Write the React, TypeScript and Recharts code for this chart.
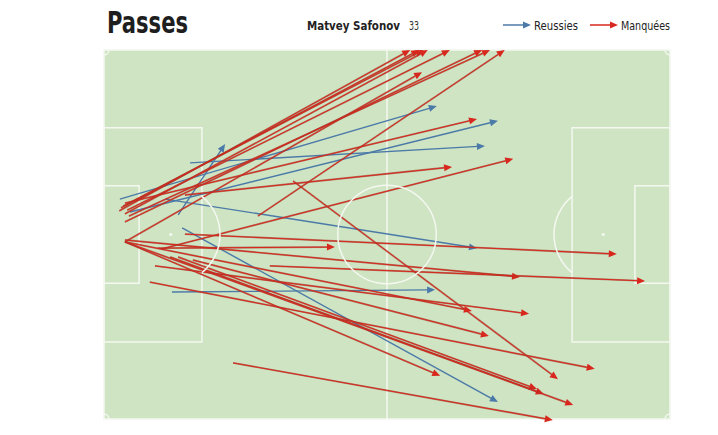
import React from "react";
import {
  ComposedChart,
  XAxis,
  YAxis,
  ReferenceArea,
  ReferenceLine,
  ReferenceDot,
  Legend,
} from "recharts";

// pitch coordinates 0-100 (Opta style), y measured from the top touchline
type Pass = { x: number; y: number; endX: number; endY: number };

const missedPasses: Pass[] = [
  { x: 2.7, y: 43.6, endX: 54.1, endY: 0 },
  { x: 3.0, y: 42.8, endX: 55.7, endY: 0 },
  { x: 3.4, y: 42.3, endX: 56.4, endY: 0 },
  { x: 3.7, y: 44.4, endX: 57.2, endY: 0 },
  { x: 4.1, y: 43.4, endX: 61.1, endY: 0 },
  { x: 3.7, y: 46.6, endX: 66.8, endY: 0 },
  { x: 4.4, y: 45.0, endX: 68.2, endY: 0 },
  { x: 27.2, y: 45.0, endX: 70.8, endY: 0 },
  { x: 3.7, y: 52.0, endX: 56.2, endY: 6.0 },
  { x: 3.7, y: 41.5, endX: 65.9, endY: 18.7 },
  { x: 14.3, y: 39.3, endX: 61.5, endY: 31.7 },
  { x: 10.2, y: 53.9, endX: 72.3, endY: 29.5 },
  { x: 33.4, y: 35.5, endX: 80.2, endY: 89.2 },
  { x: 9.5, y: 53.7, endX: 40.8, endY: 53.4 },
  { x: 14.3, y: 49.9, endX: 90.6, endY: 55.3 },
  { x: 3.7, y: 51.5, endX: 73.5, endY: 61.5 },
  { x: 29.3, y: 58.5, endX: 95.6, endY: 62.6 },
  { x: 9.0, y: 58.5, endX: 75.1, endY: 71.5 },
  { x: 3.7, y: 52.0, endX: 65.0, endY: 70.7 },
  { x: 15.7, y: 56.9, endX: 68.0, endY: 77.5 },
  { x: 8.1, y: 62.9, endX: 86.7, endY: 86.4 },
  { x: 3.7, y: 52.0, endX: 59.4, endY: 88.3 },
  { x: 13.1, y: 56.1, endX: 76.5, endY: 91.9 },
  { x: 11.7, y: 56.1, endX: 77.7, endY: 93.2 },
  { x: 3.7, y: 52.0, endX: 82.9, endY: 96.2 },
  { x: 22.8, y: 84.8, endX: 79.3, endY: 100.3 },
];

const successfulPasses: Pass[] = [
  { x: 2.8, y: 40.4, endX: 58.8, endY: 15.2 },
  { x: 4.6, y: 43.9, endX: 69.6, endY: 19.2 },
  { x: 15.2, y: 30.6, endX: 67.3, endY: 26.0 },
  { x: 13.1, y: 44.7, endX: 21.4, endY: 25.5 },
  { x: 10.8, y: 40.4, endX: 65.9, endY: 53.7 },
  { x: 13.8, y: 48.2, endX: 69.6, endY: 95.4 },
  { x: 12.0, y: 65.6, endX: 58.5, endY: 65.0 },
];

const legendItems = [
  { name: "Reussies", color: "#4b7aa8" },
  { name: "Manquées", color: "#d8271d" },
];

const TITLE = "Passes";
const PLAYER = "Matvey Safonov";
const SHIRT = "33";

// pitch markings, same 0-100 units
const BOX_DEPTH = 17.3;
const SIX_DEPTH = 6.2;
const BOX_Y = [21.1, 79.1];
const SIX_Y = [36.8, 63.2];
const SPOT_X = 11.8;
const CIRCLE_R = 8.7; // in x units

const W = 718;
const H = 435;
const M = { top: 50, right: 48, bottom: 16, left: 104 };
const PX_X = (W - M.left - M.right) / 100;

const GREEN = "#cfe4c3";
const LINE = "#f4f8f0";
const FONT = "'Liberation Sans Narrow', 'DejaVu Sans Condensed', Roboto, sans-serif";

function arrowShape(color: string, under?: string) {
  return (p: any) => {
    const { x1, y1, x2, y2 } = p;
    if ([x1, y1, x2, y2].some((v) => v == null || isNaN(v))) return <g />;
    const dx = x2 - x1;
    const dy = y2 - y1;
    const len = Math.hypot(dx, dy) || 1;
    const ux = dx / len;
    const uy = dy / len;
    const hl = 8;
    const hw = 3.5;
    const bx = x2 - ux * hl;
    const by = y2 - uy * hl;
    const pts = `${x2},${y2} ${bx - uy * hw},${by + ux * hw} ${bx + uy * hw},${by - ux * hw}`;
    return (
      <g>
        {under && (
          <line x1={x1} y1={y1} x2={bx} y2={by} stroke={under} strokeWidth={1.9} strokeOpacity={0.6} />
        )}
        <line x1={x1} y1={y1} x2={bx + ux} y2={by + uy} stroke={color} strokeWidth={under ? 1 : 1.4} />
        <polygon points={pts} fill={color} />
      </g>
    );
  };
}

const circleShape = (p: any) => (
  <circle cx={p.cx} cy={p.cy} r={CIRCLE_R * PX_X} fill="none" stroke={LINE} strokeWidth={1.5} />
);

const spotShape = (p: any) => <circle cx={p.cx} cy={p.cy} r={1.6} fill={LINE} />;

function arcShape(side: 1 | -1) {
  return (p: any) => {
    const r = CIRCLE_R * PX_X;
    const d = (BOX_DEPTH - SPOT_X) * PX_X;
    const h = Math.sqrt(r * r - d * d);
    const x0 = p.cx + side * d;
    return (
      <path
        d={`M${x0},${p.cy - h} A${r},${r} 0 0 ${side === 1 ? 1 : 0} ${x0},${p.cy + h}`}
        fill="none"
        stroke={LINE}
        strokeWidth={1.5}
      />
    );
  };
}

function cornerShape(sx: number, sy: number) {
  return (p: any) => {
    const r = 5;
    return (
      <path
        d={`M${p.cx + sx * r},${p.cy} A${r},${r} 0 0 ${sx * sy > 0 ? 1 : 0} ${p.cx},${p.cy + sy * r}`}
        fill="none"
        stroke={LINE}
        strokeWidth={1.3}
      />
    );
  };
}

function LegendContent() {
  return (
    <svg width={200} height={20} style={{ display: "block" }}>
      {legendItems.map((it, i) => {
        const x0 = i === 0 ? 0 : 87;
        return (
          <g key={it.name}>
            <line x1={x0} y1={9} x2={x0 + 21} y2={9} stroke={it.color} strokeWidth={1.5} />
            <polygon points={`${x0 + 28},9 ${x0 + 20},5.5 ${x0 + 20},12.5`} fill={it.color} />
            <text
              x={x0 + 31}
              y={14}
              fontSize={13}
              fill="#222"
              fontFamily={FONT}
              textLength={i === 0 ? 44 : 49}
              lengthAdjust="spacingAndGlyphs"
            >
              {it.name}
            </text>
          </g>
        );
      })}
    </svg>
  );
}

export default function App() {
  return (
    <div style={{ position: "absolute", left: 0, top: 0, width: W, height: H, background: "#fff" }}>
      <svg width={W} height={50} style={{ position: "absolute", left: 0, top: 0 }}>
        <text
          x={107}
          y={33}
          fontSize={31}
          fontWeight={700}
          fill="#1e1e1e"
          fontFamily={FONT}
          textLength={81}
          lengthAdjust="spacingAndGlyphs"
        >
          {TITLE}
        </text>
        <text
          x={307}
          y={30}
          fontSize={12.5}
          fontWeight={700}
          fill="#222"
          fontFamily={FONT}
          textLength={93}
          lengthAdjust="spacingAndGlyphs"
        >
          {PLAYER}
        </text>
        <text
          x={409}
          y={30}
          fontSize={12.5}
          fill="#333"
          fontFamily={FONT}
          textLength={10}
          lengthAdjust="spacingAndGlyphs"
        >
          {SHIRT}
        </text>
      </svg>
      <ComposedChart width={W} height={H} margin={M} style={{ position: "absolute", left: 0, top: 0 }}>
        <XAxis type="number" dataKey="x" domain={[0, 100]} allowDataOverflow hide />
        <YAxis type="number" dataKey="y" domain={[0, 100]} allowDataOverflow reversed hide />
        <Legend
          layout="horizontal"
          verticalAlign="middle"
          align="center"
          content={<LegendContent />}
          wrapperStyle={{ position: "absolute", top: 16, left: 503, width: 200, height: 20 }}
        />
        <ReferenceArea x1={0} x2={100} y1={0} y2={100} fill={GREEN} fillOpacity={1} stroke={LINE} strokeWidth={1.5} />
        <ReferenceArea x1={0} x2={BOX_DEPTH} y1={BOX_Y[0]} y2={BOX_Y[1]} fill="none" stroke={LINE} strokeWidth={1.5} />
        <ReferenceArea x1={0} x2={SIX_DEPTH} y1={SIX_Y[0]} y2={SIX_Y[1]} fill="none" stroke={LINE} strokeWidth={1.5} />
        <ReferenceArea x1={100 - BOX_DEPTH} x2={100} y1={BOX_Y[0]} y2={BOX_Y[1]} fill="none" stroke={LINE} strokeWidth={1.5} />
        <ReferenceArea x1={100 - SIX_DEPTH} x2={100} y1={SIX_Y[0]} y2={SIX_Y[1]} fill="none" stroke={LINE} strokeWidth={1.5} />
        <ReferenceLine x={50} stroke={LINE} strokeWidth={1.5} />
        <ReferenceDot x={50} y={50} r={1} shape={circleShape} ifOverflow="visible" />
        <ReferenceDot x={SPOT_X} y={50} r={1} shape={spotShape} />
        <ReferenceDot x={100 - SPOT_X} y={50} r={1} shape={spotShape} />
        <ReferenceDot x={SPOT_X} y={50} r={1} shape={arcShape(1)} />
        <ReferenceDot x={100 - SPOT_X} y={50} r={1} shape={arcShape(-1)} />
        <ReferenceDot x={0} y={0} r={1} shape={cornerShape(1, 1)} ifOverflow="visible" />
        <ReferenceDot x={100} y={0} r={1} shape={cornerShape(-1, 1)} ifOverflow="visible" />
        <ReferenceDot x={0} y={100} r={1} shape={cornerShape(1, -1)} ifOverflow="visible" />
        <ReferenceDot x={100} y={100} r={1} shape={cornerShape(-1, -1)} ifOverflow="visible" />
        {successfulPasses.map((p, i) => (
          <ReferenceLine
            key={`s${i}`}
            segment={[{ x: p.x, y: p.y }, { x: p.endX, y: p.endY }]}
            ifOverflow="visible"
            shape={arrowShape(legendItems[0].color)}
          />
        ))}
        {missedPasses.map((p, i) => (
          <ReferenceLine
            key={`m${i}`}
            segment={[{ x: p.x, y: p.y }, { x: p.endX, y: p.endY }]}
            ifOverflow="visible"
            shape={arrowShape(legendItems[1].color, "#9a3b2a")}
          />
        ))}
      </ComposedChart>
    </div>
  );
}
